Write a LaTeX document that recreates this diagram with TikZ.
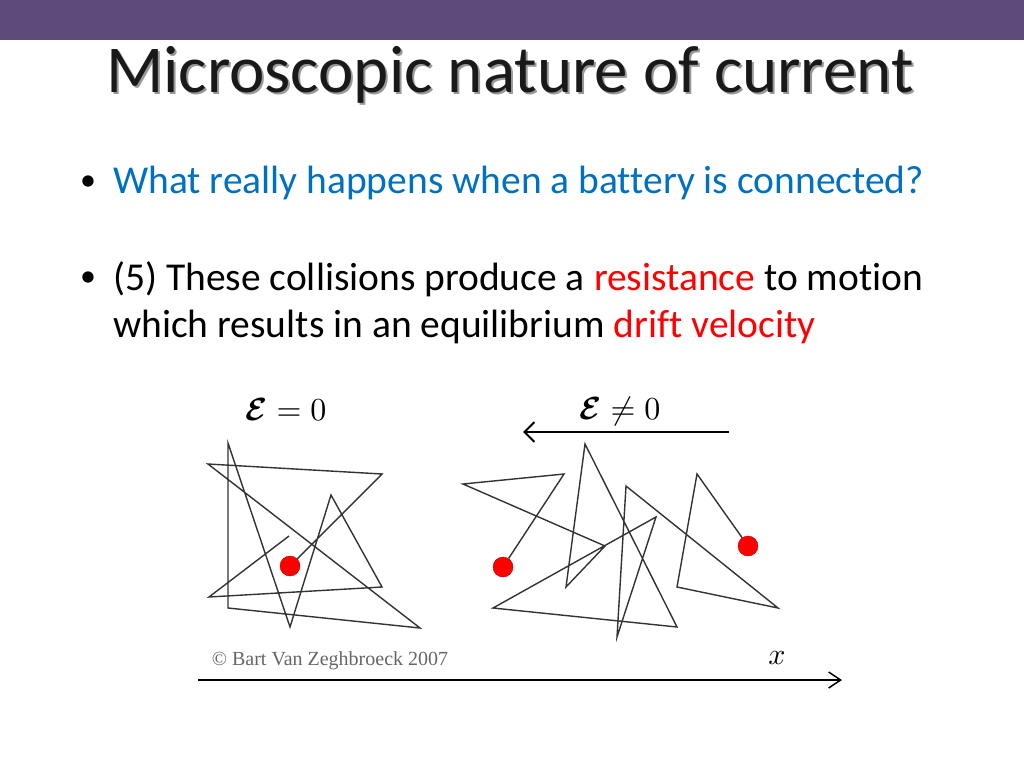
\documentclass[tikz,border=0pt]{standalone}
\usepackage{amsmath,amssymb,bm}
\usepackage{fontspec}
\setmainfont[Ligatures=NoCommon]{Carlito}
\newfontfamily\serif{Liberation Serif}
\usetikzlibrary{arrows.meta}
\definecolor{barc}{RGB}{94,75,124}
\definecolor{bluet}{RGB}{0,112,192}
\definecolor{redt}{RGB}{255,0,0}
\tikzset{path/.style={draw=black!80,line width=1.4pt,line join=miter},
 dot/.style={circle,fill=red,draw=red!70!black,inner sep=0pt,minimum size=20pt},
 mlab/.style={scale=3.2,transform shape=false},
 txt/.style={anchor=west,inner sep=0pt,font=\fontsize{39.5}{46}\selectfont}}
\begin{document}
\begin{tikzpicture}[x=1pt,y=-1pt]
\useasboundingbox (0,0) rectangle (1024,768);
\fill[barc] (0,0) rectangle (1024,40);
\node[font=\fontsize{67}{70}\selectfont,text=black!40] at (512,77) {Microscopic nature of current};
\node[font=\fontsize{67}{70}\selectfont,text=black!90] (title) at (510,75) {Microscopic nature of current};
\node[txt] (b1) at (80,183) {\fontsize{32}{32}\selectfont•};
\node[txt,text=bluet] (t1) at (113,183) {What really happens when a battery is connected?};
\node[txt] (b2) at (80,279) {\fontsize{32}{32}\selectfont•};
\node[txt] (t2) at (113,279) {(5) These collisions produce a \textcolor{redt}{resistance} to motion};
\node[txt] (t3) at (113,327) {which results in an equilibrium \textcolor{redt}{drift velocity}};
% left
\node[mlab] (e0) at (286,410) {$\bm{\mathcal{E}}=0$};
\node[dot] (d1) at (290,566) {};
\draw[path] (d1) -- (382,474) -- (208,464) -- (420,628) -- (228,608) -- (228,443) -- (290,627) -- (331,495) -- (382,587) -- (209,597) -- (289,536);
% right
\node[mlab] (e1) at (620,411) {$\bm{\mathcal{E}}\neq0$};
\coordinate (ea) at (729,432); \coordinate (eb) at (523,432);
\draw[line width=2.5pt,-{Straight Barb[length=10pt,width=20pt,line width=2pt]}] (ea) -- (eb);
\node[dot] (d2) at (503,567) {};
\node[dot] (d3) at (748,546) {};
\draw[path] (d2) -- (564,474) -- (463,484) -- (605,546) -- (566,587) -- (585,444) -- (677,627) -- (493,608) -- (656,517) -- (617,637) -- (626,486) -- (778,608) -- (677,587) -- (697,474) -- (d3);
% axis
\coordinate (xa) at (198,680); \coordinate (xb) at (842,680);
\draw[line width=1.5pt,-{Straight Barb[length=12pt,width=16pt]}] (xa) -- (xb);
\node[scale=3] (xl) at (777,658) {$x$};
\node[font=\serif\fontsize{20}{20}\selectfont,text=black!60] (cp) at (330,661) {© Bart Van Zeghbroeck 2007};
\end{tikzpicture}
\end{document}
